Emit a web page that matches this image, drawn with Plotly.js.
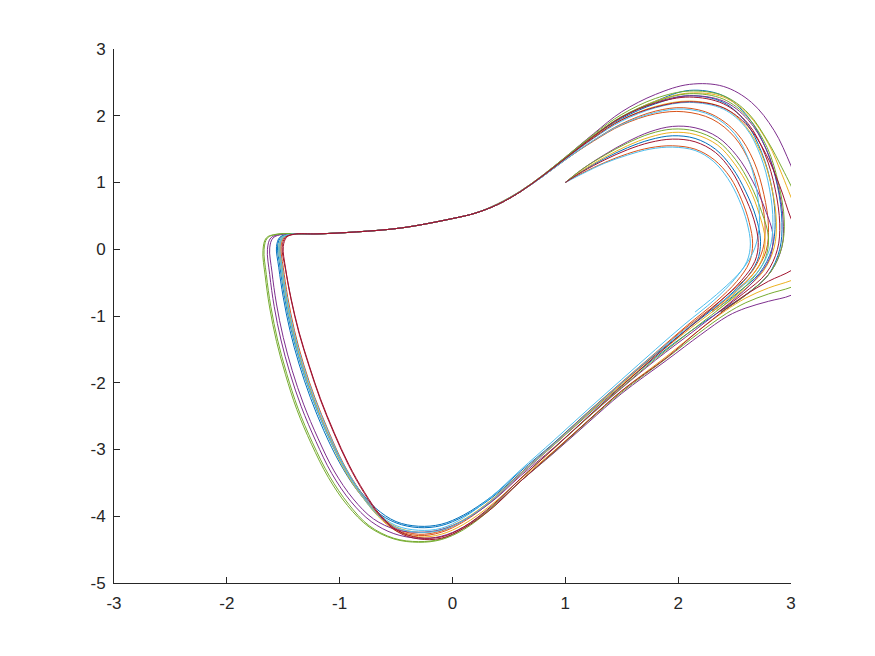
<!DOCTYPE html>
<html>
<head>
<meta charset="utf-8">
<script src="https://cdn.plot.ly/plotly-3.0.1.min.js"></script>
<style>
  html, body { margin: 0; padding: 0; background: #fff; }
  #plot { width: 875px; height: 656px; }
</style>
</head>
<body>
<div id="plot"></div>
<script>
// tick positions and labels (matlab prints a plain hyphen for negatives)
var xTicks = [-3, -2, -1, 0, 1, 2, 3];
var xLabels = ['-3', '-2', '-1', '0', '1', '2', '3'];
var yTicks = [-5, -4, -3, -2, -1, 0, 1, 2, 3];
var yLabels = ['-5', '-4', '-3', '-2', '-1', '0', '1', '2', '3'];

// phase trajectories, all starting from (1, 1) as [x, y] pairs
var bluePath = [
  [1.00,1.00],[1.15,1.17],[1.35,1.36],[1.55,1.52],[1.75,1.64],[1.95,1.70],[2.15,1.66],[2.33,1.50],[2.48,1.22],[2.60,0.86],
  [2.69,0.48],[2.73,0.12],[2.70,-0.18],[2.58,-0.48],[2.38,-0.80],[2.10,-1.17],[1.80,-1.58],[1.50,-2.00],[1.20,-2.44],[0.90,-2.90],
  [0.60,-3.33],[0.35,-3.70],[0.10,-3.98],[-0.10,-4.12],[-0.30,-4.15],[-0.50,-4.08],[-0.68,-3.88],[-0.85,-3.55],[-1.00,-3.15],[-1.13,-2.70],
  [-1.25,-2.20],[-1.35,-1.70],[-1.43,-1.20],[-1.49,-0.70],[-1.53,-0.25],[-1.55,0.05],[-1.52,0.18],[-1.44,0.225],[-1.20,0.23],[-0.85,0.26],
  [-0.45,0.32],[0.00,0.46],[0.20,0.54],[0.40,0.67],[0.60,0.86],[0.80,1.10],[1.00,1.36],[1.25,1.70],[1.50,1.98],[1.80,2.22],[2.10,2.38],[2.40,2.30],
  [2.62,1.98],[2.78,1.50],[2.88,0.95],[2.92,0.40],[2.90,0.00],[2.80,-0.38],[2.60,-0.68],[2.38,-0.92],[2.10,-1.24],[1.80,-1.62],
  [1.50,-2.04],[1.20,-2.48],[0.90,-2.93],[0.60,-3.36],[0.35,-3.72],[0.10,-4.00],[-0.10,-4.14],[-0.30,-4.17],[-0.50,-4.10],[-0.68,-3.92],
  [-0.85,-3.60],[-1.00,-3.20],[-1.14,-2.72],[-1.26,-2.22],[-1.36,-1.72],[-1.44,-1.22],[-1.50,-0.72],[-1.54,-0.27],[-1.56,0.04],[-1.53,0.18],
  [-1.45,0.225],[-1.20,0.23],[-0.85,0.26],[-0.45,0.32],[0.00,0.46],[0.20,0.54],[0.40,0.67],[0.60,0.86],[0.80,1.10],[1.00,1.36],[1.25,1.69],[1.50,1.96],
  [1.80,2.18],[2.10,2.30],[2.40,2.20],[2.60,1.90],[2.74,1.45],[2.83,0.92],[2.86,0.40],[2.83,0.00],[2.72,-0.36],[2.52,-0.66],[2.30,-0.94]
];
var orangePath = [
  [1.00,1.00],[1.15,1.14],[1.35,1.30],[1.55,1.43],[1.75,1.52],[1.95,1.55],[2.15,1.50],[2.32,1.34],[2.46,1.08],[2.56,0.75],
  [2.63,0.40],[2.66,0.08],[2.63,-0.20],[2.52,-0.48],[2.34,-0.78],[2.08,-1.14],[1.80,-1.55],[1.50,-1.99],[1.20,-2.44],[0.90,-2.91],
  [0.60,-3.36],[0.35,-3.75],[0.10,-4.06],[-0.10,-4.22],[-0.30,-4.27],[-0.50,-4.18],[-0.66,-3.96],[-0.82,-3.62],[-0.97,-3.20],[-1.10,-2.72],
  [-1.22,-2.22],[-1.32,-1.72],[-1.40,-1.22],[-1.46,-0.72],[-1.50,-0.27],[-1.52,0.04],[-1.49,0.18],[-1.41,0.225],[-1.20,0.23],[-0.85,0.26],
  [-0.45,0.32],[0.00,0.46],[0.20,0.54],[0.40,0.67],[0.60,0.86],[0.80,1.09],[1.00,1.34],[1.25,1.62],[1.50,1.86],[1.80,2.03],[2.05,2.06],[2.30,1.95],
  [2.50,1.68],[2.64,1.28],[2.73,0.80],[2.77,0.35],[2.75,0.00],[2.66,-0.32],[2.48,-0.62],[2.28,-0.90],[2.05,-1.20],[1.80,-1.57],
  [1.50,-2.01],[1.20,-2.46],[0.90,-2.93],[0.60,-3.38],[0.35,-3.77],[0.10,-4.08],[-0.10,-4.24],[-0.30,-4.29],[-0.50,-4.20],[-0.66,-3.98],
  [-0.82,-3.64],[-0.97,-3.22],[-1.11,-2.74],[-1.23,-2.24],[-1.33,-1.74],[-1.41,-1.24],[-1.47,-0.74],[-1.51,-0.28],[-1.53,0.04],[-1.50,0.18],
  [-1.42,0.225],[-1.20,0.23],[-0.85,0.26],[-0.45,0.32],[0.00,0.46],[0.20,0.54],[0.40,0.67],[0.60,0.86],[0.80,1.09],[1.00,1.34],[1.25,1.63],[1.50,1.88],
  [1.80,2.07],[2.05,2.12],[2.30,2.02],[2.52,1.74],[2.67,1.32],[2.76,0.82],[2.80,0.35],[2.78,-0.02],[2.68,-0.34],[2.50,-0.64],[2.30,-0.92]
];
var yellowPath = [
  [1.00,1.00],[1.15,1.18],[1.35,1.38],[1.55,1.55],[1.75,1.68],[1.95,1.75],[2.15,1.72],[2.35,1.56],[2.50,1.28],[2.63,0.92],
  [2.72,0.52],[2.77,0.15],[2.74,-0.16],[2.62,-0.46],[2.42,-0.78],[2.12,-1.17],[1.80,-1.60],[1.50,-2.03],[1.20,-2.47],[0.90,-2.93],
  [0.60,-3.37],[0.35,-3.75],[0.10,-4.05],[-0.10,-4.20],[-0.30,-4.24],[-0.50,-4.16],[-0.67,-3.95],[-0.84,-3.62],[-0.99,-3.20],[-1.12,-2.72],
  [-1.24,-2.22],[-1.34,-1.72],[-1.42,-1.22],[-1.48,-0.72],[-1.52,-0.27],[-1.54,0.04],[-1.51,0.18],[-1.43,0.225],[-1.20,0.23],[-0.85,0.26],
  [-0.45,0.32],[0.00,0.46],[0.20,0.54],[0.40,0.67],[0.60,0.86],[0.80,1.10],[1.00,1.36],[1.25,1.70],[1.50,1.98],[1.80,2.22],[2.10,2.34],[2.40,2.28],
  [2.62,2.02],[2.80,1.58],[2.92,1.12],[3.00,0.78],[3.12,0.30],[3.18,-0.12],[3.12,-0.38],[3.00,-0.47],[2.80,-0.58],[2.60,-0.73],
  [2.42,-0.92],[2.18,-1.22],[1.90,-1.60],[1.50,-2.12],[1.20,-2.57],[0.90,-3.02],[0.60,-3.45],[0.35,-3.82],[0.10,-4.12],[-0.10,-4.27],
  [-0.30,-4.31],[-0.50,-4.22],[-0.66,-4.00],[-0.82,-3.66],[-0.97,-3.24],[-1.11,-2.76],[-1.23,-2.26],[-1.33,-1.76],[-1.41,-1.26],[-1.47,-0.76],
  [-1.51,-0.30],[-1.53,0.03],[-1.50,0.18],[-1.42,0.225],[-1.20,0.23],[-0.85,0.26],[-0.45,0.32],[0.00,0.46],[0.20,0.54],[0.40,0.67],[0.60,0.86],[0.80,1.10],
  [1.00,1.36],[1.25,1.68],[1.50,1.94],[1.80,2.14],[2.10,2.22],[2.40,2.12],[2.60,1.84],[2.74,1.42],[2.83,0.92],[2.87,0.42],
  [2.85,0.02],[2.75,-0.34],[2.56,-0.64],[2.34,-0.92]
];
var purplePath = [
  [1.00,1.00],[1.15,1.20],[1.35,1.42],[1.55,1.61],[1.75,1.76],[1.95,1.84],[2.15,1.82],[2.35,1.68],[2.52,1.40],[2.66,1.02],
  [2.77,0.60],[2.84,0.20],[2.81,-0.14],[2.68,-0.46],[2.46,-0.80],[2.15,-1.21],[1.80,-1.66],[1.50,-2.08],[1.20,-2.52],[0.90,-2.97],
  [0.60,-3.40],[0.35,-3.78],[0.10,-4.06],[-0.10,-4.20],[-0.30,-4.24],[-0.50,-4.20],[-0.70,-4.04],[-0.88,-3.74],[-1.05,-3.32],[-1.19,-2.84],
  [-1.32,-2.32],[-1.42,-1.82],[-1.50,-1.32],[-1.56,-0.82],[-1.60,-0.34],[-1.62,0.02],[-1.59,0.17],[-1.50,0.225],[-1.20,0.23],[-0.85,0.26],
  [-0.45,0.32],[0.00,0.46],[0.20,0.54],[0.40,0.68],[0.60,0.87],[0.80,1.11],[1.00,1.38],[1.25,1.73],[1.50,2.06],[1.80,2.32],[2.10,2.47],[2.40,2.44],
  [2.65,2.20],[2.85,1.78],[3.00,1.25],[3.15,0.60],[3.25,0.00],[3.18,-0.50],[3.00,-0.69],[2.80,-0.78],[2.60,-0.88],[2.44,-1.00],
  [2.20,-1.28],[1.90,-1.66],[1.50,-2.16],[1.20,-2.60],[0.90,-3.05],[0.60,-3.48],[0.35,-3.86],[0.10,-4.16],[-0.10,-4.30],[-0.30,-4.33],
  [-0.52,-4.26],[-0.72,-4.08],[-0.90,-3.78],[-1.07,-3.36],[-1.21,-2.88],[-1.34,-2.36],[-1.44,-1.86],[-1.52,-1.36],[-1.58,-0.86],[-1.62,-0.38],
  [-1.64,0.00],[-1.61,0.17],[-1.52,0.225],[-1.20,0.23],[-0.85,0.26],[-0.45,0.32],[0.00,0.46],[0.20,0.54],[0.40,0.67],[0.60,0.86],[0.80,1.10],[1.00,1.37],
  [1.25,1.70],[1.50,1.98],[1.80,2.20],[2.10,2.30],[2.40,2.22],[2.62,1.94],[2.78,1.50],[2.88,0.98],[2.93,0.45],[2.92,0.04],
  [2.82,-0.34],[2.62,-0.66],[2.38,-0.94]
];
var greenPath = [
  [1.00,1.00],[1.15,1.20],[1.35,1.41],[1.55,1.59],[1.75,1.73],[1.95,1.80],[2.15,1.77],[2.35,1.62],[2.51,1.34],[2.64,0.97],
  [2.74,0.56],[2.80,0.18],[2.77,-0.15],[2.65,-0.46],[2.44,-0.79],[2.14,-1.19],[1.80,-1.64],[1.50,-2.07],[1.20,-2.52],[0.90,-2.98],
  [0.60,-3.44],[0.35,-3.86],[0.10,-4.18],[-0.10,-4.34],[-0.30,-4.38],[-0.52,-4.33],[-0.74,-4.14],[-0.92,-3.82],[-1.09,-3.40],[-1.24,-2.90],
  [-1.37,-2.38],[-1.47,-1.86],[-1.55,-1.36],[-1.61,-0.86],[-1.65,-0.38],[-1.67,0.00],[-1.64,0.17],[-1.55,0.225],[-1.20,0.23],[-0.85,0.26],
  [-0.45,0.32],[0.00,0.46],[0.20,0.54],[0.40,0.68],[0.60,0.87],[0.80,1.11],[1.00,1.38],[1.25,1.72],[1.50,2.02],[1.80,2.26],[2.10,2.37],[2.40,2.30],
  [2.62,2.04],[2.80,1.60],[2.92,1.22],[3.00,0.95],[3.15,0.40],[3.22,-0.10],[3.15,-0.45],[3.00,-0.57],[2.80,-0.67],[2.60,-0.80],
  [2.43,-0.96],[2.18,-1.26],[1.90,-1.63],[1.50,-2.14],[1.20,-2.58],[0.90,-3.04],[0.60,-3.48],[0.35,-3.88],[0.10,-4.20],[-0.10,-4.35],
  [-0.30,-4.39],[-0.52,-4.34],[-0.74,-4.16],[-0.93,-3.84],[-1.10,-3.42],[-1.25,-2.92],[-1.38,-2.40],[-1.48,-1.88],[-1.56,-1.38],[-1.62,-0.88],
  [-1.66,-0.40],[-1.68,-0.02],[-1.65,0.17],[-1.56,0.225],[-1.20,0.23],[-0.85,0.26],[-0.45,0.32],[0.00,0.46],[0.20,0.54],[0.40,0.67],[0.60,0.86],[0.80,1.10],
  [1.00,1.37],[1.25,1.70],[1.50,1.99],[1.80,2.21],[2.10,2.33],[2.40,2.25],[2.62,1.97],[2.79,1.52],[2.89,0.98],[2.94,0.44],
  [2.92,0.04],[2.82,-0.34],[2.62,-0.66],[2.38,-0.94]
];
var lightBluePath = [
  [1.00,1.00],[1.15,1.13],[1.35,1.29],[1.55,1.41],[1.75,1.50],[1.95,1.53],[2.15,1.48],[2.31,1.32],[2.44,1.06],[2.54,0.74],
  [2.61,0.40],[2.64,0.08],[2.61,-0.18],[2.50,-0.45],[2.32,-0.76],[2.06,-1.12],[1.80,-1.50],[1.50,-1.95],[1.20,-2.40],[0.90,-2.86],
  [0.60,-3.31],[0.35,-3.70],[0.10,-4.02],[-0.10,-4.18],[-0.30,-4.21],[-0.50,-4.14],[-0.67,-3.94],[-0.83,-3.60],[-0.98,-3.18],[-1.11,-2.70],
  [-1.23,-2.20],[-1.33,-1.70],[-1.41,-1.20],[-1.47,-0.70],[-1.51,-0.26],[-1.53,0.04],[-1.50,0.18],[-1.42,0.225],[-1.20,0.23],[-0.85,0.26],
  [-0.45,0.32],[0.00,0.46],[0.20,0.54],[0.40,0.67],[0.60,0.86],[0.80,1.09],[1.00,1.35],[1.25,1.66],[1.50,1.92],[1.80,2.12],[2.10,2.20],[2.40,2.10],
  [2.60,1.82],[2.73,1.40],[2.81,0.90],[2.84,0.40],[2.81,0.00],[2.70,-0.35],[2.50,-0.64],[2.28,-0.92],[2.05,-1.22],[1.80,-1.56],
  [1.50,-2.00],[1.20,-2.45],[0.90,-2.92],[0.60,-3.37],[0.35,-3.76],[0.10,-4.06],[-0.10,-4.21],[-0.30,-4.24],[-0.50,-4.17],[-0.67,-3.97],
  [-0.83,-3.63],[-0.98,-3.21],[-1.12,-2.73],[-1.24,-2.23],[-1.34,-1.73],[-1.42,-1.23],[-1.48,-0.73],[-1.52,-0.28],[-1.54,0.04],[-1.51,0.18],
  [-1.43,0.225],[-1.20,0.23],[-0.85,0.26],[-0.45,0.32],[0.00,0.46],[0.20,0.54],[0.40,0.67],[0.60,0.86],[0.80,1.09],[1.00,1.34],[1.25,1.63],[1.50,1.87],
  [1.80,2.05],[2.05,2.10],[2.30,2.00],[2.50,1.73],[2.63,1.32],[2.70,0.85],[2.72,0.40],[2.68,0.02],[2.57,-0.30],[2.38,-0.62],[2.15,-0.94]
];
var redPath = [
  [1.00,1.00],[1.15,1.16],[1.35,1.34],[1.55,1.49],[1.75,1.60],[1.95,1.65],[2.15,1.61],[2.33,1.45],[2.47,1.18],[2.58,0.83],
  [2.67,0.45],[2.71,0.10],[2.68,-0.18],[2.56,-0.47],[2.37,-0.78],[2.10,-1.17],[1.80,-1.60],[1.50,-2.05],[1.20,-2.51],[0.90,-2.98],
  [0.60,-3.44],[0.35,-3.84],[0.10,-4.16],[-0.10,-4.31],[-0.30,-4.32],[-0.48,-4.22],[-0.64,-3.98],[-0.78,-3.64],[-0.92,-3.22],[-1.05,-2.74],
  [-1.17,-2.24],[-1.27,-1.74],[-1.36,-1.24],[-1.43,-0.74],[-1.48,-0.28],[-1.50,0.04],[-1.47,0.18],[-1.40,0.225],[-1.20,0.23],[-0.85,0.26],
  [-0.45,0.32],[0.00,0.46],[0.20,0.54],[0.40,0.67],[0.60,0.86],[0.80,1.10],[1.00,1.36],[1.25,1.67],[1.50,1.94],[1.80,2.13],[2.10,2.21],[2.40,2.12],
  [2.62,1.84],[2.78,1.42],[2.90,0.95],[3.00,0.46],[3.10,0.10],[3.08,-0.20],[3.00,-0.32],[2.80,-0.48],[2.60,-0.68],[2.42,-0.90],
  [2.18,-1.22],[1.90,-1.62],[1.50,-2.12],[1.20,-2.57],[0.90,-3.03],[0.60,-3.48],[0.35,-3.88],[0.10,-4.18],[-0.10,-4.33],[-0.30,-4.34],
  [-0.48,-4.24],[-0.64,-4.00],[-0.78,-3.66],[-0.92,-3.24],[-1.05,-2.76],[-1.17,-2.26],[-1.27,-1.76],[-1.36,-1.26],[-1.43,-0.76],[-1.48,-0.30],
  [-1.51,0.03],[-1.48,0.18],[-1.41,0.225],[-1.20,0.23],[-0.85,0.26],[-0.45,0.32],[0.00,0.46],[0.20,0.54],[0.40,0.67],[0.60,0.86],[0.80,1.10],[1.00,1.36],
  [1.25,1.69],[1.50,1.98],[1.80,2.19],[2.10,2.28],[2.40,2.18],[2.62,1.88],[2.77,1.42],[2.86,0.90],[2.90,0.38],[2.88,0.00],
  [2.78,-0.36],[2.58,-0.66],[2.36,-0.94]
];

var paths = [bluePath, orangePath, yellowPath, purplePath, greenPath, lightBluePath, redPath];
// matlab default line colours, in plotting order
var colours = ['#0072BD', '#D95319', '#EDB120', '#7E2F8E', '#77AC30', '#4DBEEE', '#A2142F'];

var data = paths.map(function(p, i){
  return {
    x: p.map(function(pt){ return pt[0]; }),
    y: p.map(function(pt){ return pt[1]; }),
    mode: 'lines',
    line: {color: colours[i], width: 1, shape: 'spline', smoothing: 1},
    hoverinfo: 'skip',
    showlegend: false
  };
});

var axisStyle = {
  showgrid: false,
  zeroline: false,
  showline: true,
  linecolor: '#262626',
  linewidth: 1,
  ticks: 'inside',
  ticklen: 6,
  tickcolor: '#262626',
  tickmode: 'array',
  tickfont: {family: 'Liberation Sans, Arial, sans-serif', size: 17, color: '#262626'},
  mirror: false,
  fixedrange: true
};

var layout = {
  width: 875,
  height: 656,
  margin: {l: 114, r: 84, t: 49, b: 73},
  paper_bgcolor: '#ffffff',
  plot_bgcolor: '#ffffff',
  xaxis: Object.assign({}, axisStyle, {range: [-3, 3], tickvals: xTicks, ticktext: xLabels, ticklabelstandoff: 5}),
  yaxis: Object.assign({}, axisStyle, {range: [-5, 3], tickvals: yTicks, ticktext: yLabels, ticklabelstandoff: 4})
};

Plotly.newPlot('plot', data, layout, {staticPlot: true, displayModeBar: false});
</script>
</body>
</html>
